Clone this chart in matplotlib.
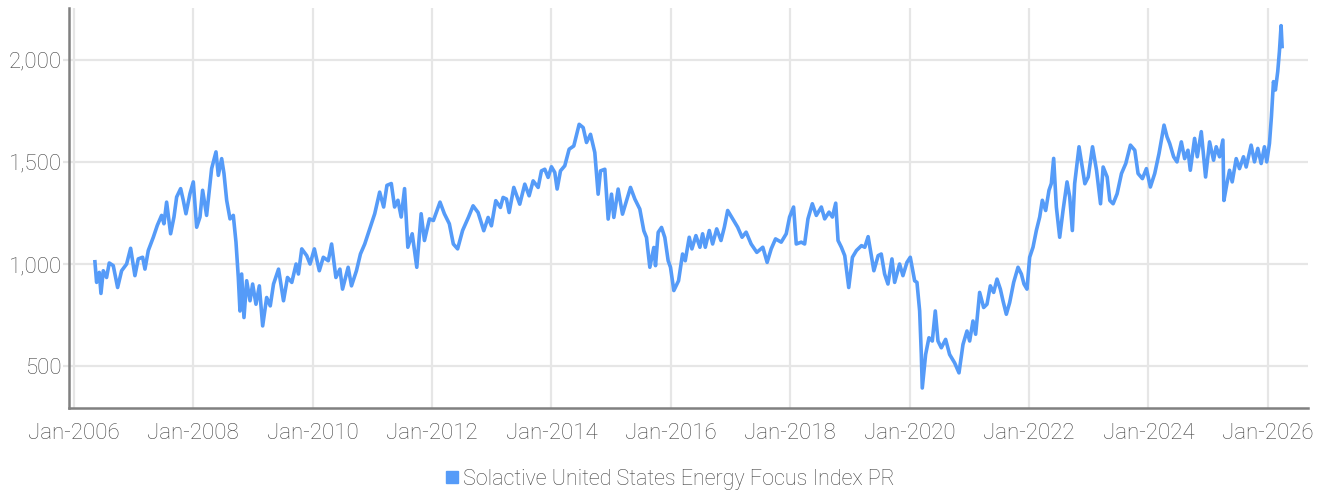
import matplotlib
matplotlib.use("Agg")
import matplotlib.pyplot as plt

# index level (decimal year, value)
years = [
    2006.352, 2006.380, 2006.425, 2006.453, 2006.492, 2006.547, 2006.592, 2006.659, 2006.732, 2006.799,
    2006.883, 2006.950, 2007.022, 2007.078, 2007.151, 2007.190, 2007.246, 2007.330, 2007.397, 2007.469,
    2007.508, 2007.553, 2007.620, 2007.676, 2007.721, 2007.788, 2007.832, 2007.877, 2007.944, 2008.000,
    2008.056, 2008.112, 2008.156, 2008.223, 2008.307, 2008.380, 2008.419, 2008.475, 2008.514, 2008.559,
    2008.615, 2008.670, 2008.715, 2008.754, 2008.782, 2008.810, 2008.849, 2008.894, 2008.950, 2008.994,
    2009.050, 2009.106, 2009.162, 2009.229, 2009.289, 2009.344, 2009.428, 2009.511, 2009.578, 2009.650,
    2009.722, 2009.761, 2009.817, 2009.900, 2009.956, 2010.028, 2010.111, 2010.178, 2010.261, 2010.317,
    2010.389, 2010.456, 2010.500, 2010.594, 2010.650, 2010.733, 2010.800, 2010.872, 2010.956, 2011.039,
    2011.122, 2011.189, 2011.244, 2011.317, 2011.372, 2011.428, 2011.483, 2011.539, 2011.594, 2011.667,
    2011.744, 2011.817, 2011.872, 2011.956, 2012.022, 2012.133, 2012.206, 2012.289, 2012.356, 2012.428,
    2012.511, 2012.611, 2012.687, 2012.771, 2012.866, 2012.939, 2012.994, 2013.067, 2013.145, 2013.190,
    2013.246, 2013.291, 2013.369, 2013.469, 2013.553, 2013.626, 2013.693, 2013.777, 2013.832, 2013.888,
    2013.944, 2014.000, 2014.056, 2014.095, 2014.151, 2014.223, 2014.296, 2014.374, 2014.464, 2014.531,
    2014.587, 2014.654, 2014.726, 2014.782, 2014.821, 2014.894, 2014.950, 2015.006, 2015.045, 2015.117,
    2015.190, 2015.257, 2015.324, 2015.397, 2015.480, 2015.547, 2015.592, 2015.648, 2015.715, 2015.743,
    2015.788, 2015.844, 2015.899, 2015.955, 2015.994, 2016.050, 2016.129, 2016.196, 2016.241, 2016.308,
    2016.353, 2016.420, 2016.487, 2016.532, 2016.577, 2016.644, 2016.700, 2016.768, 2016.840, 2016.896,
    2016.952, 2017.036, 2017.120, 2017.193, 2017.261, 2017.345, 2017.440, 2017.541, 2017.613, 2017.681,
    2017.754, 2017.849, 2017.933, 2017.989, 2018.056, 2018.101, 2018.185, 2018.241, 2018.297, 2018.370,
    2018.437, 2018.521, 2018.577, 2018.650, 2018.706, 2018.762, 2018.801, 2018.857, 2018.913, 2018.980,
    2019.042, 2019.109, 2019.193, 2019.249, 2019.305, 2019.350, 2019.401, 2019.473, 2019.525, 2019.581,
    2019.637, 2019.704, 2019.749, 2019.832, 2019.888, 2019.955, 2020.011, 2020.084, 2020.123, 2020.168,
    2020.196, 2020.212, 2020.268, 2020.324, 2020.380, 2020.430, 2020.475, 2020.531, 2020.603, 2020.670,
    2020.754, 2020.827, 2020.894, 2020.961, 2021.006, 2021.061, 2021.106, 2021.173, 2021.240, 2021.296,
    2021.352, 2021.408, 2021.464, 2021.520, 2021.564, 2021.620, 2021.676, 2021.743, 2021.816, 2021.872,
    2021.916, 2021.966, 2022.011, 2022.067, 2022.123, 2022.179, 2022.223, 2022.279, 2022.335, 2022.374,
    2022.413, 2022.458, 2022.514, 2022.570, 2022.637, 2022.682, 2022.726, 2022.765, 2022.838, 2022.936,
    2022.992, 2023.064, 2023.131, 2023.198, 2023.242, 2023.309, 2023.354, 2023.409, 2023.476, 2023.549,
    2023.621, 2023.699, 2023.772, 2023.827, 2023.900, 2023.967, 2024.033, 2024.106, 2024.178, 2024.262,
    2024.312, 2024.357, 2024.423, 2024.479, 2024.552, 2024.607, 2024.663, 2024.702, 2024.774, 2024.819,
    2024.886, 2024.958, 2025.025, 2025.092, 2025.136, 2025.192, 2025.248, 2025.265, 2025.315, 2025.359,
    2025.404, 2025.471, 2025.526, 2025.593, 2025.638, 2025.721, 2025.777, 2025.833, 2025.889, 2025.944,
    2025.983, 2026.028, 2026.061, 2026.095, 2026.128, 2026.167, 2026.195, 2026.223, 2026.240,
]
values = [
    1011, 910, 959, 856, 967, 934, 1005, 992, 885, 967,
    1000, 1077, 943, 1025, 1033, 975, 1066, 1131, 1189, 1238,
    1197, 1303, 1148, 1230, 1328, 1369, 1312, 1246, 1344, 1402,
    1180, 1230, 1361, 1238, 1467, 1549, 1434, 1516, 1443, 1312,
    1221, 1238, 1107, 934, 770, 951, 738, 918, 820, 902,
    803, 893, 697, 836, 795, 902, 975, 820, 934, 910,
    1000, 951, 1074, 1041, 1000, 1074, 967, 1033, 1016, 1098,
    934, 975, 877, 984, 893, 967, 1049, 1098, 1172, 1246,
    1352, 1279, 1385, 1394, 1279, 1312, 1230, 1369, 1082, 1148,
    984, 1246, 1115, 1221, 1213, 1303, 1246, 1197, 1098, 1074,
    1164, 1230, 1285, 1252, 1163, 1228, 1187, 1310, 1277, 1326,
    1318, 1252, 1375, 1293, 1391, 1334, 1407, 1375, 1456, 1464,
    1424, 1476, 1448, 1367, 1456, 1481, 1562, 1578, 1684, 1668,
    1595, 1635, 1546, 1342, 1456, 1464, 1220, 1342, 1228, 1367,
    1244, 1310, 1375, 1318, 1269, 1163, 1130, 984, 1081, 992,
    1155, 1179, 1130, 1016, 984, 870, 918, 1049, 1016, 1131,
    1074, 1139, 1082, 1148, 1082, 1164, 1098, 1172, 1115, 1180,
    1262, 1221, 1180, 1131, 1156, 1098, 1057, 1082, 1008, 1074,
    1123, 1107, 1148, 1230, 1279, 1098, 1107, 1098, 1221, 1295,
    1238, 1279, 1221, 1254, 1230, 1298, 1115, 1082, 1041, 885,
    1033, 1066, 1090, 1082, 1134, 1057, 967, 1041, 1049, 951,
    902, 1025, 910, 1000, 943, 1008, 1033, 918, 910, 770,
    557, 393, 557, 639, 623, 770, 623, 590, 631, 557,
    516, 467, 606, 672, 623, 721, 656, 861, 787, 803,
    893, 861, 926, 877, 820, 754, 811, 910, 984, 951,
    902, 877, 1033, 1082, 1164, 1230, 1312, 1262, 1361, 1394,
    1517, 1279, 1131, 1262, 1402, 1328, 1164, 1394, 1574, 1393,
    1426, 1574, 1459, 1295, 1475, 1426, 1311, 1295, 1344, 1443,
    1492, 1582, 1557, 1443, 1418, 1467, 1377, 1443, 1541, 1680,
    1623, 1590, 1525, 1500, 1598, 1516, 1557, 1459, 1615, 1525,
    1648, 1426, 1598, 1508, 1574, 1525, 1607, 1311, 1393, 1459,
    1402, 1516, 1467, 1525, 1475, 1582, 1500, 1566, 1492, 1574,
    1500, 1590, 1721, 1893, 1852, 1943, 2041, 2167, 2065,
]

tick_years = [2006, 2008, 2010, 2012, 2014, 2016, 2018, 2020, 2022, 2024, 2026]
tick_labels = ["Jan-%d" % y for y in tick_years]
y_ticks = [500, 1000, 1500, 2000]
series_name = "Solactive United States Energy Focus Index PR"

plt.rcParams['font.family'] = ['Roboto', 'DejaVu Sans']

line_color = '#559bf8'
text_color = '#444444'

fig = plt.figure(figsize=(13.25, 4.93), dpi=100)
ax = fig.add_axes([0.052, 0.172, 0.935, 0.812])

ax.plot(years, values, color=line_color, lw=2.6, solid_joinstyle='round',
        label=series_name)

ax.set_xlim(2005.916, 2026.67)
ax.set_ylim(294, 2254)

ax.set_xticks(tick_years)
ax.set_xticklabels(tick_labels)
ax.set_yticks(y_ticks)
ax.set_yticklabels(["{:,}".format(v) for v in y_ticks])

ax.grid(True, color='#e6e6e6', lw=1.6)
ax.set_axisbelow(True)
ax.tick_params(axis='x', length=0, pad=11, labelsize=16, labelcolor=text_color)
ax.tick_params(axis='y', length=4, width=1.6, color='#e6e6e6', pad=1,
               labelsize=16, labelcolor=text_color)
for lab in ax.get_xticklabels() + ax.get_yticklabels():
    lab.set_fontweight('light')

for s in ['top', 'right']:
    ax.spines[s].set_visible(False)
for s in ['left', 'bottom']:
    ax.spines[s].set_color('#808080')
    ax.spines[s].set_linewidth(1.8)

leg = fig.legend(handles=[plt.Line2D([], [], ls='none', marker='s', ms=9,
                                      color=line_color, label=series_name)],
                 loc='center', bbox_to_anchor=(0.505, 0.028), frameon=False,
                 handletextpad=0.1, handlelength=0.8,
                 prop={'size': 15.5, 'weight': 'light'})
for t in leg.get_texts():
    t.set_color(text_color)

fig.savefig('out.png', dpi=100)
